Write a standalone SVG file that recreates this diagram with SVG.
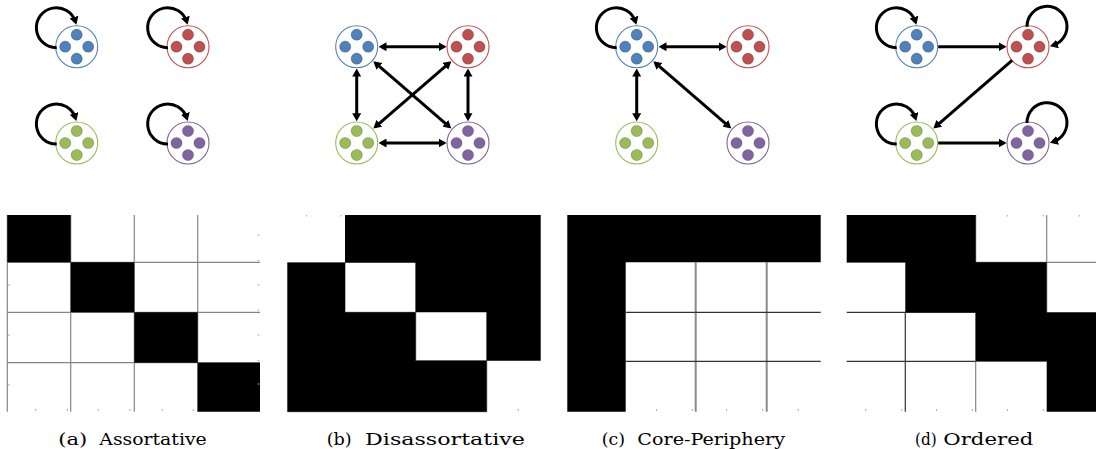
<svg xmlns="http://www.w3.org/2000/svg" xmlns:xlink="http://www.w3.org/1999/xlink" width="1096" height="449" viewBox="0 0 1096 449">
<style>
.ring{fill:#fff;stroke:currentColor;stroke-width:1.1}
.dot{fill:currentColor;stroke:#000;stroke-opacity:0.25;stroke-width:0.8}
.b{color:#4F81BD}.r{color:#C0504D}.g{color:#9BBB59}.p{color:#8064A2}
.edge{fill:none;stroke:#000;stroke-width:3}
.one{marker-end:url(#ah)}
.two{marker-start:url(#ah);marker-end:url(#ah)}
.grid{stroke:#858585;stroke-width:1.2;fill:none}
.dark{stroke:#333;stroke-width:1.2}
.thick{stroke:#8a8a8a;stroke-width:2}
.tick{stroke:#aaa;stroke-width:1}
.blk{fill:#000;fill-rule:evenodd}
.cap{font-family:"DejaVu Serif","Liberation Serif",serif;font-size:17px;fill:#000}
</style>
<defs>
<marker id="ah" viewBox="0 0 8 9" markerWidth="8" markerHeight="9" refX="5" refY="4.5" orient="auto-start-reverse" markerUnits="userSpaceOnUse">
<path d="M0,0 L8,4.5 L0,9 z" fill="#000"/>
</marker>
<g id="dots">
<circle class="ring" r="21"/>
<circle class="dot" cx="0" cy="-12" r="5.6"/>
<circle class="dot" cx="-11.5" cy="0" r="5.6"/>
<circle class="dot" cx="11.5" cy="0" r="5.6"/>
<circle class="dot" cx="0" cy="12" r="5.6"/>
</g>
</defs>

<!-- Panel (a) nodes -->
<g id="a-blue" class="b" transform="translate(76.7,46.7)"><use xlink:href="#dots"/></g>
<g id="a-red" class="r" transform="translate(188,46.7)"><use xlink:href="#dots"/></g>
<g id="a-green" class="g" transform="translate(76.7,143)"><use xlink:href="#dots"/></g>
<g id="a-purple" class="p" transform="translate(188,143)"><use xlink:href="#dots"/></g>

<!-- Panel (b) nodes -->
<g id="b-blue" class="b" transform="translate(356.7,46.7)"><use xlink:href="#dots"/></g>
<g id="b-red" class="r" transform="translate(468,46.7)"><use xlink:href="#dots"/></g>
<g id="b-green" class="g" transform="translate(356.7,143)"><use xlink:href="#dots"/></g>
<g id="b-purple" class="p" transform="translate(468,143)"><use xlink:href="#dots"/></g>

<!-- Panel (c) nodes -->
<g id="c-blue" class="b" transform="translate(636.7,46.7)"><use xlink:href="#dots"/></g>
<g id="c-red" class="r" transform="translate(748,46.7)"><use xlink:href="#dots"/></g>
<g id="c-green" class="g" transform="translate(636.7,143)"><use xlink:href="#dots"/></g>
<g id="c-purple" class="p" transform="translate(748,143)"><use xlink:href="#dots"/></g>

<!-- Panel (d) nodes -->
<g id="d-blue" class="b" transform="translate(916.7,46.7)"><use xlink:href="#dots"/></g>
<g id="d-red" class="r" transform="translate(1028,46.7)"><use xlink:href="#dots"/></g>
<g id="d-green" class="g" transform="translate(916.7,143)"><use xlink:href="#dots"/></g>
<g id="d-purple" class="p" transform="translate(1028,143)"><use xlink:href="#dots"/></g>

<!-- Connectors -->
<g id="connectors">
<!-- (a) self loops -->
<path class="edge one" transform="translate(76.7,46.7)" d="M -20 1 A 20 20 0 1 1 -1.2 -24.8"/>
<path class="edge one" transform="translate(188,46.7)" d="M -20 1 A 20 20 0 1 1 -1.2 -24.8"/>
<path class="edge one" transform="translate(76.7,143)" d="M -20 1 A 20 20 0 1 1 -1.2 -24.8"/>
<path class="edge one" transform="translate(188,143)" d="M -20 1 A 20 20 0 1 1 -1.2 -24.8"/>
<!-- (b) -->
<path class="edge two" d="M 381.5 46.7 L 443.5 46.7"/>
<path class="edge two" d="M 381.5 143 L 443.5 143"/>
<path class="edge two" d="M 356.7 71.5 L 356.7 118.2"/>
<path class="edge two" d="M 468 71.5 L 468 118.2"/>
<path class="edge two" d="M 375.6 63.1 L 449.1 126.6"/>
<path class="edge two" d="M 449.1 63.1 L 375.6 126.6"/>
<!-- (c) -->
<path class="edge one" transform="translate(636.7,46.7)" d="M -20 1 A 20 20 0 1 1 -1.2 -24.8"/>
<path class="edge two" d="M 661.5 46.7 L 723.5 46.7"/>
<path class="edge two" d="M 636.7 71.5 L 636.7 118.2"/>
<path class="edge two" d="M 655.6 63.1 L 729.1 126.6"/>
<!-- (d) -->
<path class="edge one" transform="translate(916.7,46.7)" d="M -20 1 A 20 20 0 1 1 -1.2 -24.8"/>
<path class="edge one" transform="translate(916.7,143)" d="M -20 1 A 20 20 0 1 1 -1.2 -24.8"/>
<path class="edge one" transform="translate(1028,46.7) rotate(90)" d="M -20 1 A 20 20 0 1 1 -1.2 -24.8"/>
<path class="edge one" transform="translate(1028,143) rotate(90)" d="M -20 1 A 20 20 0 1 1 -1.2 -24.8"/>
<path class="edge one" d="M 938.2 46.7 L 1003.5 46.7"/>
<path class="edge one" d="M 1012.1 60.4 L 935.6 126.6"/>
<path class="edge one" d="M 938.2 143 L 1003.5 143"/>
</g>

<!-- Matrix (a) -->
<g id="matrix-a">
<path class="grid" d="M7.3 215V411.7 M70.7 215V411.7 M134.3 215V411.7 M197.7 215V411.7 M7.3 262.3H260 M7.3 312.3H260 M7.3 362.7H260"/>
<path class="blk" d="M7.3 215H70.7V262.3H7.3Z M70.7 262.3H134.3V312.3H70.7Z M134.3 312.3H197.7V362.7H134.3Z M197.7 362.7H260V411.7H197.7Z"/>
<path class="tick" d="M35.7 409V411 M67.3 409V411 M98.3 409V411 M130 409V411 M162.3 409V411 M193.3 409V411 M257.5 235H259.5 M257.5 260.7H259.5 M257.5 285H259.5 M257.5 310H259.5 M257.5 335H259.5 M257.5 360.7H259.5 M257.5 384H259.5 M8 385H10 M8 335H10 M8 285H10"/>
</g>

<!-- Matrix (b) -->
<g id="matrix-b">
<path class="grid" d="M287.3 262.7H345 M345 262.7V312.3 M345 312.3H415.7 M415.7 262.7V360.7 M415.7 360.7H486.7 M486.7 312.3V411.7 M287.3 411.7H486.7"/>
<path class="blk" d="M345 215H540.7V360.7H486.7V411.7H287.3V262.7H345Z M345 262.7H415.7V312.3H345Z M415.7 312.3H486.7V360.7H415.7Z"/>
<path class="tick" d="M306.7 215V216.5 M341 215V216.5 M518.3 409V411"/>
</g>

<!-- Matrix (c) -->
<g id="matrix-c">
<path class="grid thick" d="M695.7 262.3V411.7 M766.7 262.3V411.7"/>
<path class="grid dark" d="M625.7 312.3H820.7 M625.7 361.3H820.7"/>
<path class="blk" d="M567.3 215H820.7V262.3H625.7V411.7H567.3Z"/>
<path class="tick" d="M656.7 409V411 M692.3 409V411 M726.7 409V411 M762.7 409V411 M798.3 409V411"/>
</g>

<!-- Matrix (d) -->
<g id="matrix-d">
<path class="grid" d="M975.7 215V262.3 M1046.7 215V312.3 M846.7 262.3H1096 M975.7 312.3V411.7 M975.7 361.3H1046.7"/>
<path class="grid dark" d="M846.7 312.3H975.7 M846.7 361.3H975.7 M905.3 312.3V411.7"/>
<path class="blk" d="M846.7 215H975.7V262.3H1046.7V312.3H1096V411.7H1046.7V361.3H975.7V312.3H905.3V262.3H846.7Z"/>
<path class="tick" d="M1007.3 215V216.5 M1043.3 215V216.5 M1079.3 215V216.5 M865.7 409V411 M901.7 409V411 M936.7 409V411 M972.3 409V411 M1007.3 409V411 M1043.3 409V411"/>
</g>

<!-- Captions -->
<text class="cap" y="445"><tspan x="58.3" textLength="29" lengthAdjust="spacingAndGlyphs">(a)</tspan><tspan x="99.3" textLength="107.4" lengthAdjust="spacingAndGlyphs">Assortative</tspan></text>
<text class="cap" y="445"><tspan x="326.7" textLength="25" lengthAdjust="spacingAndGlyphs">(b)</tspan><tspan x="365" textLength="160" lengthAdjust="spacingAndGlyphs">Disassortative</tspan></text>
<text class="cap" y="445"><tspan x="601.7" textLength="23.3" lengthAdjust="spacingAndGlyphs">(c)</tspan><tspan x="637.3" textLength="147.7" lengthAdjust="spacingAndGlyphs">Core-Periphery</tspan></text>
<text class="cap" y="445"><tspan x="915" textLength="21.7" lengthAdjust="spacingAndGlyphs">(d)</tspan><tspan x="943.3" textLength="90" lengthAdjust="spacingAndGlyphs">Ordered</tspan></text>
</svg>
